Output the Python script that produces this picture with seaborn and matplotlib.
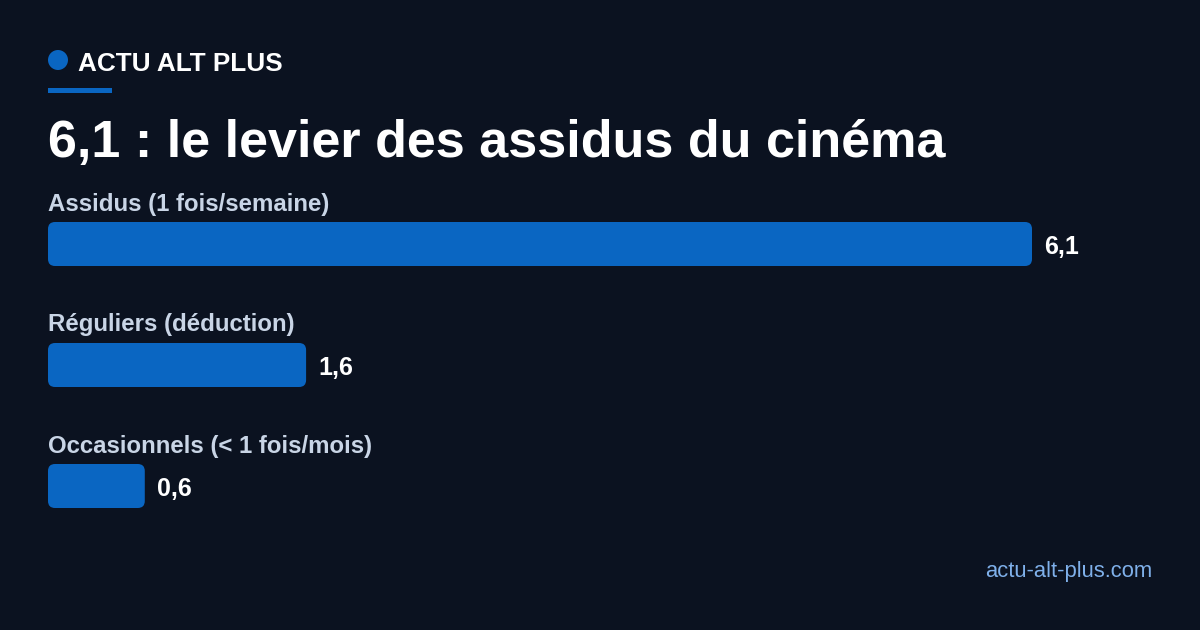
"""Horizontal bar card: cinema attendance lever (ACTU ALT PLUS)."""

import matplotlib

matplotlib.use("Agg")

import matplotlib.pyplot as plt
import pandas as pd
import seaborn as sns
from matplotlib.patches import Ellipse, FancyBboxPatch, Rectangle


CATEGORIES = [
    "Assidus (1 fois/semaine)",
    "Réguliers (déduction)",
    "Occasionnels (< 1 fois/mois)",
]
VALUES = [6.1, 1.6, 0.6]
VALUE_LABELS = ["6,1", "1,6", "0,6"]

BRAND = "ACTU ALT PLUS"
TITLE = "6,1 : le levier des assidus du cinéma"
FOOTER = "actu-alt-plus.com"

BG = "#0b1220"
BAR = "#0a66c2"
LABEL = "#c9d5e6"
FOOTER_COLOR = "#7fb0ea"

W, H = 1200, 630
PX_PER_UNIT = 984 / 6.1
ROW_PX = 121
FIRST_ROW_PX = 244


def main():
    sns.set_theme(style="white")
    plt.rcParams["font.family"] = ["Liberation Sans", "DejaVu Sans"]

    fig = plt.figure(figsize=(W / 100, H / 100), dpi=100, facecolor=BG)

    # axes spans the full height; y data maps to pixel rows
    ax_left, ax_right = 48, 1152
    ax = fig.add_axes([ax_left / W, 0, (ax_right - ax_left) / W, 1])
    ax.set_facecolor("none")

    df = pd.DataFrame({"category": CATEGORIES, "value": VALUES})
    sns.barplot(
        data=df,
        x="value",
        y="category",
        orient="h",
        color=BAR,
        width=44 / ROW_PX,
        saturation=1,
        ax=ax,
    )

    ax.set_xlim(0, (ax_right - ax_left) / PX_PER_UNIT)
    ax.set_ylim((H - FIRST_ROW_PX) / ROW_PX, -FIRST_ROW_PX / ROW_PX)
    ax.axis("off")

    # rounded corners on the bars
    rx = 7 / PX_PER_UNIT
    ry = 7 / ROW_PX
    for patch in list(ax.patches):
        x, y = patch.get_x(), patch.get_y()
        w, h = patch.get_width(), patch.get_height()
        patch.remove()
        ax.add_patch(
            FancyBboxPatch(
                (x, y),
                w,
                h,
                boxstyle=f"round,pad=0,rounding_size={rx}",
                mutation_aspect=ry / rx,
                facecolor=BAR,
                edgecolor="none",
            )
        )

    for i, (cat, val, lab) in enumerate(zip(CATEGORIES, VALUES, VALUE_LABELS)):
        ax.text(
            0,
            i - 40 / ROW_PX,
            cat,
            color=LABEL,
            fontsize=17.3,
            fontweight="bold",
            ha="left",
            va="center",
        )
        ax.text(
            val + 12 / PX_PER_UNIT,
            i + 3 / ROW_PX,
            lab,
            color="white",
            fontsize=18,
            fontweight="bold",
            ha="left",
            va="center",
        )

    # header
    fig.patches.append(
        Ellipse((58 / W, 1 - 60 / H), 20 / W, 20 / H, transform=fig.transFigure,
                facecolor=BAR, edgecolor="none")
    )
    fig.text(78 / W, 1 - 64 / H, BRAND, color="white", fontsize=18.8,
             fontweight="bold", ha="left", va="center")
    fig.patches.append(
        Rectangle((48 / W, 1 - 93 / H), 64 / W, 5 / H, transform=fig.transFigure,
                  facecolor=BAR, edgecolor="none")
    )
    fig.text(48 / W, 1 - 138 / H, TITLE, color="white", fontsize=37.5,
             fontweight="bold", ha="left", va="center_baseline")

    fig.text(1152 / W, 1 - 571 / H, FOOTER, color=FOOTER_COLOR, fontsize=15.8,
             ha="right", va="center")

    fig.savefig("out.png", dpi=100, facecolor=BG)
    plt.close(fig)


if __name__ == "__main__":
    main()
